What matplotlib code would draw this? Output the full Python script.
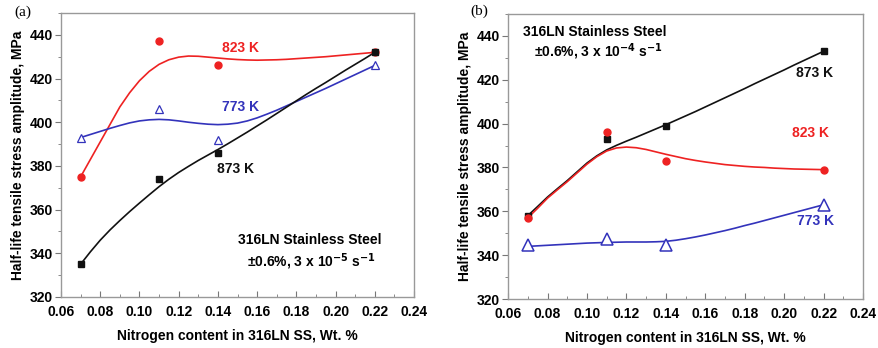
import numpy as np
import matplotlib.pyplot as plt
from matplotlib.ticker import MultipleLocator

plt.rcParams['font.family'] = ['Liberation Sans', 'DejaVu Sans']
plt.rcParams['font.weight'] = 'bold'

# measured points (N content, wt.%)
n_pts = [0.07, 0.11, 0.14, 0.22]

# (a) 3e-5 s^-1
a_823 = [375, 437, 426, 432]
a_773 = [393, 406, 392, 426]
a_873 = [335, 374, 386, 432]

# (b) 3e-4 s^-1
b_873 = [358, 393, 399, 433]
b_823 = [357, 396, 383, 379]
b_773 = [344.5, 347.5, 344.5, 363]

# smooth fit curves (every 0.005 wt.%)
n_fit = [0.07, 0.075, 0.08, 0.085, 0.09, 0.095, 0.10, 0.105, 0.11, 0.115,
         0.12, 0.125, 0.13, 0.135, 0.14, 0.145, 0.15, 0.155, 0.16, 0.165,
         0.17, 0.175, 0.18, 0.185, 0.19, 0.195, 0.20, 0.205, 0.21, 0.215, 0.22]
a_823_fit = [375, 383, 391, 399, 407, 413.5, 419, 423.3, 426.5, 428.6,
             429.8, 430.3, 430.2, 429.8, 429.4, 429, 428.7, 428.5, 428.4, 428.5,
             428.6, 428.8, 429.1, 429.4, 429.7, 430, 430.4, 430.8, 431.2, 431.6, 432]
a_773_fit = [393, 394.4, 395.8, 397.2, 398.5, 399.7, 400.6, 401.1, 401.3, 401.1,
             400.6, 400, 399.5, 399.1, 398.9, 399.1, 399.6, 400.6, 402, 403.7,
             405.5, 407.5, 409.5, 411.5, 413.5, 415.5, 417.6, 419.7, 421.8, 423.9, 426]
a_873_fit = [335, 340.7, 346, 350.7, 355, 359.1, 363, 366.8, 370.5, 373.9,
             377, 379.8, 382.5, 385, 387.5, 390.1, 392.8, 395.5, 398.3, 401.1,
             404, 406.9, 409.8, 412.7, 415.5, 418.2, 421, 423.8, 426.5, 429.2, 432]
b_873_fit = [358, 362.2, 366.5, 370.3, 374, 378, 382, 385.3, 388, 390.1,
             392, 393.8, 395.7, 397.6, 399.5, 401.5, 403.5, 405.5, 407.6, 409.7,
             411.8, 413.9, 416, 418.2, 420.3, 422.4, 424.5, 426.7, 428.8, 430.9, 433]
b_823_fit = [357, 361.4, 366, 369.8, 373.5, 377.5, 381.5, 384.9, 387.5, 388.9,
             389.3, 389, 388.2, 387.1, 386, 385, 384, 383.2, 382.5, 381.9,
             381.3, 380.9, 380.5, 380.2, 380, 379.7, 379.5, 379.3, 379.2, 379.1, 379]
b_773_fit = [344, 344.25, 344.5, 344.75, 345, 345.25, 345.5, 345.65, 345.8, 345.9,
             346, 346, 346, 346.1, 346.3, 346.8, 347.5, 348.3, 349.2, 350.2,
             351.2, 352.3, 353.5, 354.6, 355.8, 357, 358.2, 359.4, 360.6, 361.8, 363]

RED = '#ee2222'
BLUE = '#3333bb'
BLACK = '#111111'
FS = 10

fig = plt.figure(figsize=(8.79, 3.48), dpi=100)
ax1 = fig.add_axes([0.0694, 0.1466, 0.4016, 0.816])
ax2 = fig.add_axes([0.578, 0.1408, 0.4039, 0.819])


def style(ax):
    ax.set_xlim(0.06, 0.24)
    ax.set_ylim(320, 450)
    ax.xaxis.set_minor_locator(MultipleLocator(0.01))
    ax.yaxis.set_minor_locator(MultipleLocator(10))
    xt = np.arange(0.06, 0.2401, 0.02)
    ax.set_xticks(xt)
    ax.set_xticklabels(['%.2f' % v for v in xt])
    ax.set_yticks(np.arange(320, 441, 20))
    for s in ax.spines.values():
        s.set_color('#999999')
        s.set_linewidth(1.0)
    ax.tick_params(axis='x', which='major', direction='in', length=4, color='#777777', labelsize=FS, pad=6)
    ax.tick_params(axis='x', which='minor', direction='in', length=2, color='#777777')
    ax.tick_params(axis='y', which='major', direction='out', length=4, color='#777777', labelsize=FS, pad=2)
    ax.tick_params(axis='y', which='minor', direction='out', length=2, color='#777777')
    for lab in ax.get_xticklabels() + ax.get_yticklabels():
        lab.set_fontweight('bold')
    ax.set_xlabel('Nitrogen content in 316LN SS, Wt. %', fontsize=FS, fontweight='bold', labelpad=7)
    ax.set_ylabel('Half-life tensile stress amplitude, MPa', fontsize=FS, fontweight='bold', labelpad=3)


# panel (a)
style(ax1)
ax1.plot(n_fit, a_823_fit, color=RED, lw=1.2)
ax1.plot(n_fit, a_773_fit, color=BLUE, lw=1.2)
ax1.plot(n_fit, a_873_fit, color=BLACK, lw=1.2)
ax1.plot(n_pts, a_823, 'o', color=RED, ms=5)
ax1.plot(n_pts, a_773, '^', mfc='white', mec=BLUE, mew=0.9, ms=6)
ax1.plot(n_pts, a_873, 's', color=BLACK, ms=5)
ax1.text(0.142, 434, '823 K', color=RED, fontsize=FS, fontweight='bold', va='center')
ax1.text(0.142, 407, '773 K', color=BLUE, fontsize=FS, fontweight='bold', va='center')
ax1.text(0.1395, 378.5, '873 K', color=BLACK, fontsize=FS, fontweight='bold', va='center')
ax1.text(0.150, 346, '316LN Stainless Steel', fontsize=FS, fontweight='bold', va='center')
ax1.text(0.155, 336, '\u00b10.6%, 3 x 10$^{-5}$ s$^{-1}$', fontsize=FS, fontweight='bold', va='center')
fig.text(0.016, 0.965, '(a)', family='Liberation Serif', fontweight='normal', fontsize=11, va='center')

# panel (b)
style(ax2)
ax2.plot(n_fit, b_873_fit, color=BLACK, lw=1.2)
ax2.plot(n_fit, b_823_fit, color=RED, lw=1.2)
ax2.plot(n_fit, b_773_fit, color=BLUE, lw=1.2)
ax2.plot(n_pts, b_873, 's', color=BLACK, ms=5)
ax2.plot(n_pts, b_823, 'o', color=RED, ms=5)
ax2.plot(n_pts, b_773, '^', mfc='white', mec=BLUE, mew=1.1, ms=8)
ax2.text(0.206, 423, '873 K', color=BLACK, fontsize=FS, fontweight='bold', va='center')
ax2.text(0.204, 395.7, '823 K', color=RED, fontsize=FS, fontweight='bold', va='center')
ax2.text(0.2065, 355.5, '773 K', color=BLUE, fontsize=FS, fontweight='bold', va='center')
ax2.text(0.0676, 441.8, '316LN Stainless Steel', fontsize=FS, fontweight='bold', va='center')
ax2.text(0.073, 432.7, '\u00b10.6%, 3 x 10$^{-4}$ s$^{-1}$', fontsize=FS, fontweight='bold', va='center')
fig.text(0.535, 0.968, '(b)', family='Liberation Serif', fontweight='normal', fontsize=11, va='center')

fig.savefig('out.png', dpi=100)
